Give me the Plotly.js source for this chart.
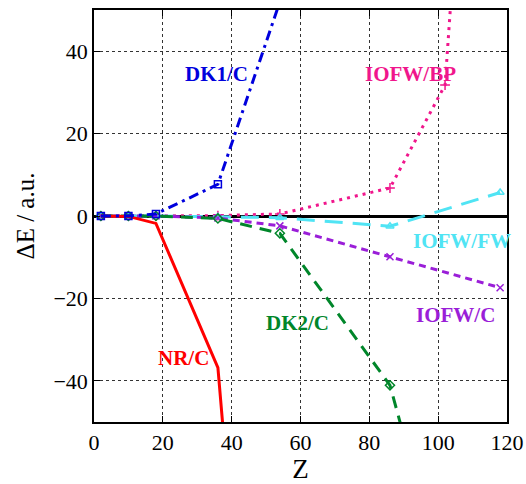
<!DOCTYPE html>
<html>
<head>
<meta charset="utf-8">
<script src="https://cdn.plot.ly/plotly-3.0.1.min.js"></script>
<style>
#chart text { font-family: 'Liberation Serif', serif !important; }
</style>
</head>
<body style="margin:0;background:#fff">
<div id="chart" style="width:526px;height:484px"></div>
<script>
// Data (Z values and energy differences in a.u.)
const zNR = [2, 10, 18, 36, 54];
const nrC = [0, -0.1, -1.8, -36.8, -214];

const zDK1 = [2, 10, 18, 36, 54];
const dk1C = [0, 0, 0.5, 7.7, 52];

const zBP = [2, 10, 18, 36, 54, 86, 102, 118];
const iofwBP = [0, 0, 0, 0.1, 0.5, 6.8, 31.8, 224];

const zFW = [2, 10, 18, 36, 54, 86, 118];
const iofwFW = [0, 0, 0, -0.2, -0.4, -2.5, 5.7];

const zIC = [2, 10, 18, 36, 54, 86, 118];
const iofwC = [0, 0, 0, -0.5, -2.4, -9.9, -17.4];

const zDK2 = [2, 10, 18, 36, 54, 86, 118];
const dk2C = [0, 0, 0, -0.6, -4.2, -41.1, -139];

const xTicks = [0, 20, 40, 60, 80, 100, 120];
const yTicks = [-40, -20, 0, 20, 40];

const FAM = 'Liberation Serif';

function tr(x, y, color, dash, symbol, name) {
  return {
    x: x, y: y, name: name, type: 'scatter', mode: 'lines+markers',
    line: {color: color, width: 3, dash: dash},
    marker: {symbol: symbol, size: 7, color: color, line: {color: color, width: 1.5}}
  };
}

const traces = [
  tr(zBP, iofwBP, '#f0168c', '3px,5px', 'cross-thin-open', 'IOFW/BP'),
  tr(zFW, iofwFW, '#50e4f4', '18px,10px', 'triangle-up-open', 'IOFW/FW'),
  tr(zIC, iofwC, '#9a1ed8', '7px,5px', 'x-thin-open', 'IOFW/C'),
  tr(zDK2, dk2C, '#00862a', '12px,8px', 'diamond-open', 'DK2/C'),
  tr(zNR, nrC, '#ff0000', 'solid', 'circle-open', 'NR/C'),
  tr(zDK1, dk1C, '#0000dd', '10px,5px,3px,5px', 'square-open', 'DK1/C')
];
traces[4].mode = 'lines';

function lab(x, y, text, color) {
  return {x: x, y: y, xref: 'x', yref: 'y', text: '<b>' + text + '</b>', showarrow: false,
    font: {family: FAM, size: 21, color: color}};
}

const layout = {
  width: 526, height: 484,
  margin: {l: 94, r: 19, t: 10, b: 62},
  paper_bgcolor: '#fff', plot_bgcolor: '#fff',
  showlegend: false,
  font: {family: FAM},
  xaxis: {
    range: [0, 120], tickvals: xTicks, ticks: 'inside', ticklen: 6, tickcolor: '#000',
    showline: true, linecolor: '#000', linewidth: 1.5, mirror: 'ticks',
    showgrid: true, gridcolor: '#333', griddash: 'dot', gridwidth: 1,
    zeroline: false,
    tickfont: {family: FAM, size: 22, color: '#000'},
    title: {text: 'Z', font: {family: FAM, size: 27, color: '#000'}, standoff: 10}
  },
  yaxis: {
    range: [-50, 50], tickvals: yTicks, ticks: 'inside', ticklen: 6, tickcolor: '#000',
    showline: true, linecolor: '#000', linewidth: 1.5, mirror: 'ticks',
    showgrid: true, gridcolor: '#333', griddash: 'dot', gridwidth: 1,
    zeroline: true, zerolinecolor: '#000', zerolinewidth: 2.5,
    tickfont: {family: FAM, size: 22, color: '#000'},
    title: {text: 'ΔE / a.u.', font: {family: FAM, size: 25, color: '#000'}, standoff: 12}
  },
  annotations: [
    lab(35.5, 34.5, 'DK1/C', '#0000dd'),
    lab(92, 34.5, 'IOFW/BP', '#f0168c'),
    lab(107, -6, 'IOFW/FW', '#50e4f4'),
    lab(105, -24, 'IOFW/C', '#9a1ed8'),
    lab(59, -26, 'DK2/C', '#00862a'),
    lab(26, -34.5, 'NR/C', '#ff0000')
  ]
};

Plotly.newPlot('chart', traces, layout, {displayModeBar: false});
</script>
</body>
</html>
